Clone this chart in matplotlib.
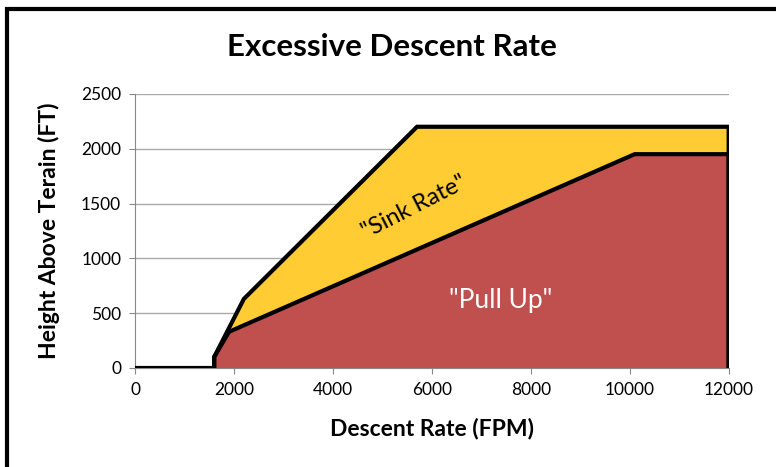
import matplotlib
matplotlib.use("Agg")
import matplotlib.pyplot as plt
from matplotlib.patches import Rectangle

# Envelope boundaries (descent rate in FPM, height in FT)
sink_x = [0, 1600, 1600, 2200, 5700, 12000, 12000]
sink_y = [0, 0, 100, 630, 2200, 2200, 0]
pull_x = [1600, 1600, 1900, 10100, 12000, 12000]
pull_y = [0, 100, 330, 1950, 1950, 0]

x_ticks = [0, 2000, 4000, 6000, 8000, 10000, 12000]
y_ticks = [0, 500, 1000, 1500, 2000, 2500]

plt.rcParams['font.family'] = ['Lato', 'DejaVu Sans']

fig = plt.figure(figsize=(7.76, 4.67), dpi=100)
ax = fig.add_axes([0.174, 0.212, 0.765, 0.587])

ax.fill(sink_x, sink_y, color='#FFCC33', zorder=2)
ax.fill(pull_x, pull_y, color='#C0504D', zorder=3)
ax.plot(sink_x, sink_y, color='black', lw=3, zorder=4, solid_joinstyle='miter')
ax.plot(pull_x, pull_y, color='black', lw=3, zorder=4, solid_joinstyle='miter')

ax.text(5650, 1470, '"Sink Rate"', rotation=27, ha='center', va='center',
        fontsize=17, color='black', zorder=5)
ax.text(7400, 620, '"Pull Up"', ha='center', va='center',
        fontsize=19, color='white', zorder=5)

ax.set_xlim(0, 12000)
ax.set_ylim(0, 2500)
ax.set_xticks(x_ticks)
ax.set_yticks(y_ticks)
ax.tick_params(labelsize=12.5, length=4, color='#888888', pad=6)
ax.grid(axis='y', color='#AAAAAA', lw=1, zorder=0)
ax.set_axisbelow(True)
for s in ['top', 'right']:
    ax.spines[s].set_visible(False)
for s in ['left', 'bottom']:
    ax.spines[s].set_color('#888888')

ax.set_xlabel('Descent Rate (FPM)', fontsize=16.5, fontweight='bold', labelpad=14)
ax.set_ylabel('Height Above Terain (FT)', fontsize=16.5, fontweight='bold', labelpad=15)
fig.text(0.505, 0.90, 'Excessive Descent Rate', ha='center', va='center',
         fontsize=22.5, fontweight='bold')

fig.patches.append(Rectangle((7 / 776, -0.2), 1.5, 1.2 - 9 / 467,
                             transform=fig.transFigure, fill=False,
                             edgecolor='black', lw=3))

fig.savefig('out.png', dpi=100)
